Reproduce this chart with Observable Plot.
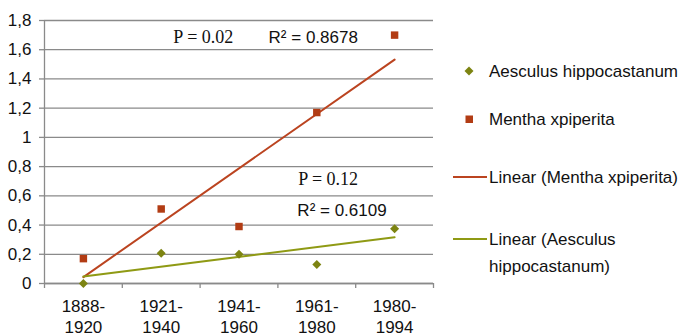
<!DOCTYPE html>
<html>
<head>
<meta charset="utf-8">
<script src="https://cdn.jsdelivr.net/npm/d3@7"></script>
<script src="https://cdn.jsdelivr.net/npm/@observablehq/plot@0.6"></script>
<style>
  html, body { margin: 0; padding: 0; background: #fff; }
  #chart svg { display: block; }
</style>
</head>
<body>
<div id="chart"></div>
<script>
// Categories (periods)
const periods = ["1888-\n1920", "1921-\n1940", "1941-\n1960", "1961-\n1980", "1980-\n1994"];
const periodIndex = [1, 2, 3, 4, 5];
// Series values
const aesculus = [0.0, 0.207, 0.20, 0.13, 0.375];
const mentha = [0.17, 0.51, 0.39, 1.17, 1.70];
// Y ticks
const yTicks = [0, 0.2, 0.4, 0.6, 0.8, 1, 1.2, 1.4, 1.6, 1.8];
// Annotations
const pText = ["P = 0.02", "P = 0.12"];
const pX = [2.156, 3.76];
const pY = [1.648, 0.675];
const rText = ["R\u00B2 = 0.8678", "R\u00B2 = 0.6109"];
const rX = [3.38, 3.75];
const rY = [1.648, 0.464];

const seriesNames = ["Aesculus hippocastanum", "Mentha xpiperita"];

const RED = "#b23c14";
const RED_LINE = "#bb4420";
const OLIVE = "#7d8412";
const OLIVE_LINE = "#8f9a14";
const GRID = "#8a8a8a";

const aData = periodIndex.map((x, i) => ({x, y: aesculus[i]}));
const mData = periodIndex.map((x, i) => ({x, y: mentha[i]}));
const pAnno = pText.map((t, i) => ({t, x: pX[i], y: pY[i]}));
const rAnno = rText.map((t, i) => ({t, x: rX[i], y: rY[i]}));

const plot = Plot.plot({
  width: 681,
  height: 336,
  marginLeft: 44,
  marginRight: 248,
  marginTop: 20,
  marginBottom: 53,
  style: {fontFamily: "Liberation Sans, Arial, sans-serif", fontSize: "17px", color: "#000", background: "#fff"},
  x: {type: "linear", domain: [0.5, 5.5], label: null},
  y: {domain: [0, 1.8], label: null},
  marks: [
    Plot.gridY(yTicks, {stroke: GRID, strokeOpacity: 1, strokeWidth: 1.3}),
    Plot.axisY(yTicks, {tickSize: 5, tickPadding: 8, stroke: GRID, strokeWidth: 1.3, label: null,
      tickFormat: d => String(d).replace(".", ","), fontSize: 17, fill: "#111"}),
    Plot.axisX([0.5, 1.5, 2.5, 3.5, 4.5, 5.5], {tickSize: 5, tickFormat: () => "", stroke: GRID, strokeWidth: 1.3, label: null}),
    Plot.axisX(periodIndex, {tickSize: 0, tickPadding: 13, tickFormat: i => periods[i - 1], label: null,
      fontSize: 17, lineHeight: 1.25, fill: "#111"}),
    Plot.ruleX([0.5], {stroke: GRID, strokeWidth: 1.3}),
    Plot.ruleY([0], {stroke: GRID, strokeWidth: 1.3}),
    Plot.linearRegressionY(mData, {x: "x", y: "y", ci: 0, stroke: RED_LINE, strokeWidth: 2}),
    Plot.linearRegressionY(aData, {x: "x", y: "y", ci: 0, stroke: OLIVE_LINE, strokeWidth: 2}),
    Plot.dot(mData, {x: "x", y: "y", symbol: "square", r: 4.2, fill: RED, stroke: "none"}),
    Plot.dot(aData, {x: "x", y: "y", symbol: "square", rotate: 45, r: 3.6, fill: OLIVE, stroke: "none"}),
    Plot.text(pAnno, {x: "x", y: "y", text: "t", textAnchor: "start", lineAnchor: "bottom",
      fontFamily: "Liberation Serif, Times New Roman, serif", fontSize: 18, fill: "#111"}),
    Plot.text(rAnno, {x: "x", y: "y", text: "t", textAnchor: "start", lineAnchor: "bottom",
      fontFamily: "Liberation Sans, Arial, sans-serif", fontSize: 17, fill: "#111"})
  ]
});

document.getElementById("chart").appendChild(plot);

// Legend
const svg = d3.select(plot);
const lg = svg.append("g")
  .attr("font-family", "Liberation Sans, Arial, sans-serif")
  .attr("font-size", 17).attr("fill", "#111").attr("text-anchor", "start");
// Diamond
lg.append("rect").attr("x", -3.2).attr("y", -3.2).attr("width", 6.4).attr("height", 6.4)
  .attr("fill", OLIVE).attr("transform", "translate(469,71) rotate(45)");
lg.append("text").attr("x", 489).attr("y", 71).attr("dy", "0.35em").text(seriesNames[0]);
// Square
lg.append("rect").attr("x", 465.5).attr("y", 115.5).attr("width", 7.5).attr("height", 7.5).attr("fill", RED);
lg.append("text").attr("x", 489).attr("y", 119).attr("dy", "0.35em").text(seriesNames[1]);
// Red line
lg.append("line").attr("x1", 453).attr("x2", 487).attr("y1", 177).attr("y2", 177).attr("stroke", RED_LINE).attr("stroke-width", 2);
lg.append("text").attr("x", 489).attr("y", 177).attr("dy", "0.35em").text("Linear (" + seriesNames[1] + ")");
// Olive line
lg.append("line").attr("x1", 453).attr("x2", 487).attr("y1", 239).attr("y2", 239).attr("stroke", OLIVE_LINE).attr("stroke-width", 2);
lg.append("text").attr("x", 489).attr("y", 239).attr("dy", "0.35em").text("Linear (Aesculus");
lg.append("text").attr("x", 489).attr("y", 266).attr("dy", "0.35em").text("hippocastanum)");
</script>
</body>
</html>
